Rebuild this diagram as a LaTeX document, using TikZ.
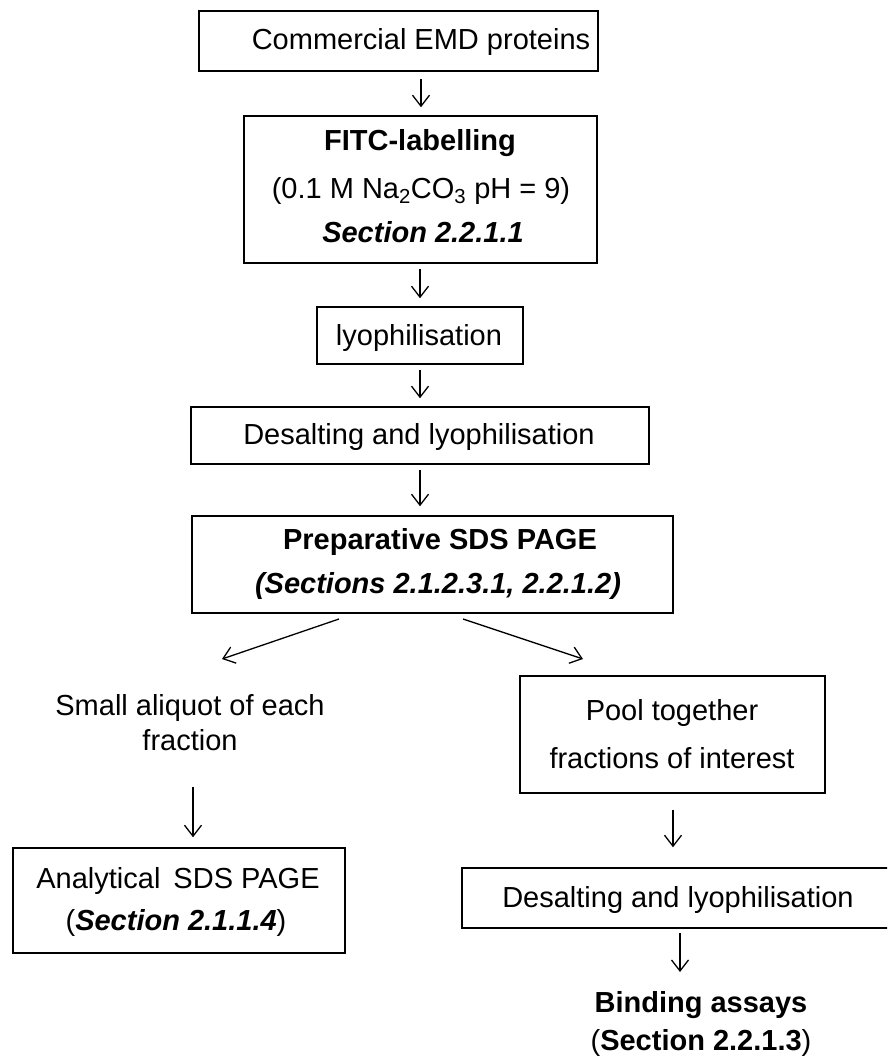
\documentclass[tikz,border=0pt]{standalone}
\usepackage{fontspec}
\setmainfont{Liberation Sans}
\usetikzlibrary{arrows.meta}
\tikzset{
  box/.style={draw=black, line width=1.5pt, inner sep=0pt, fill=none},
  txt/.style={anchor=base, inner sep=0pt, text=black, font=\fontsize{29}{34}\selectfont},
  arr/.style={line width=1.3pt, -{Straight Barb[length=11pt,width=17pt,line width=1.3pt]}},
}
\begin{document}
\begin{tikzpicture}[x=1pt,y=-1pt]
\clip (0,0) rectangle (887,1063);
\fill[white] (0,0) rectangle (887,1063);

% --- top chain ---
\node[box, minimum width=399pt, minimum height=60pt] (b1) at (398.5,41) {};
\node[txt] (t1) at (421,49.5) {Commercial EMD proteins};

\node[box, minimum width=353pt, minimum height=147pt] (b2) at (420.5,189.5) {};
\node[txt] (t2a) at (420,150) {\bfseries FITC-labelling};
\node[txt] (t2b) at (421,198) {(0.1 M Na\textsubscript{2}CO\textsubscript{3} pH = 9)};
\node[txt] (t2c) at (423,242) {\bfseries\itshape Section 2.2.1.1};

\node[box, minimum width=206pt, minimum height=57pt] (b3) at (420,335.5) {};
\node[txt] (t3) at (419,345) {lyophilisation};

\node[box, minimum width=458pt, minimum height=57pt] (b4) at (420,435.5) {};
\node[txt] (t4) at (419,444) {Desalting and lyophilisation};

\node[box, minimum width=481pt, minimum height=97pt] (b5) at (432.5,564.5) {};
\node[txt] (t5a) at (440,549) {\bfseries Preparative SDS PAGE};
\node[txt] (t5b) at (438,593) {\bfseries\itshape (Sections 2.1.2.3.1, 2.2.1.2)};

\draw[arr, shorten <=7pt, shorten >=8pt] (t1 |- b1.south) -- (t1 |- b2.north);
\draw[arr, shorten <=5pt, shorten >=8pt] (b3.north |- b2.south) -- (b3.north);
\draw[arr, shorten <=5pt, shorten >=8pt] (b3.south) -- (b3.south |- b4.north);
\draw[arr, shorten <=5pt, shorten >=9pt] (b4.south) -- (b4.south |- b5.north);

% --- split ---
\coordinate (dls) at (339,619);
\coordinate (dle) at (222,659);
\coordinate (drs) at (463,619);
\coordinate (dre) at (583,659);
\draw[arr] (dls) -- (dle);
\draw[arr] (drs) -- (dre);

% --- left branch ---
\node[txt] (t6a) at (190,715) {Small aliquot of each};
\node[txt] (t6b) at (190,750) {fraction};
\node[box, minimum width=332pt, minimum height=105pt] (b6) at (179,900.5) {};
\node[txt] (t6c) at (178,888) {Analytical\hspace{0.45em}SDS PAGE};
\node[txt] (t6d) at (176,930) {(\textbf{\itshape Section 2.1.1.4})};
\coordinate (al) at (193,787);
\draw[arr, shorten >=10pt] (al) -- (al |- b6.north);

% --- right branch ---
\node[box, minimum width=305pt, minimum height=117pt] (b7) at (672.5,734.5) {};
\node[txt] (t7a) at (672,720) {Pool together};
\node[txt] (t7b) at (672,768) {fractions of interest};

\node[box, minimum width=458pt, minimum height=60pt] (b8) at (691,898) {};
\node[txt] (t8) at (678,907) {Desalting and lyophilisation};
\coordinate (ar1) at (673,810);
\draw[arr, shorten >=20pt] (ar1) -- (ar1 |- b8.north);

\node[txt] (t9a) at (701,1012) {\bfseries Binding assays};
\node[txt] (t9b) at (701,1050) {(\textbf{Section 2.2.1.3})};
\coordinate (ar2) at (680,933);
\coordinate (ar2e) at (680,972);
\draw[arr] (ar2) -- (ar2e);
\end{tikzpicture}
\end{document}
